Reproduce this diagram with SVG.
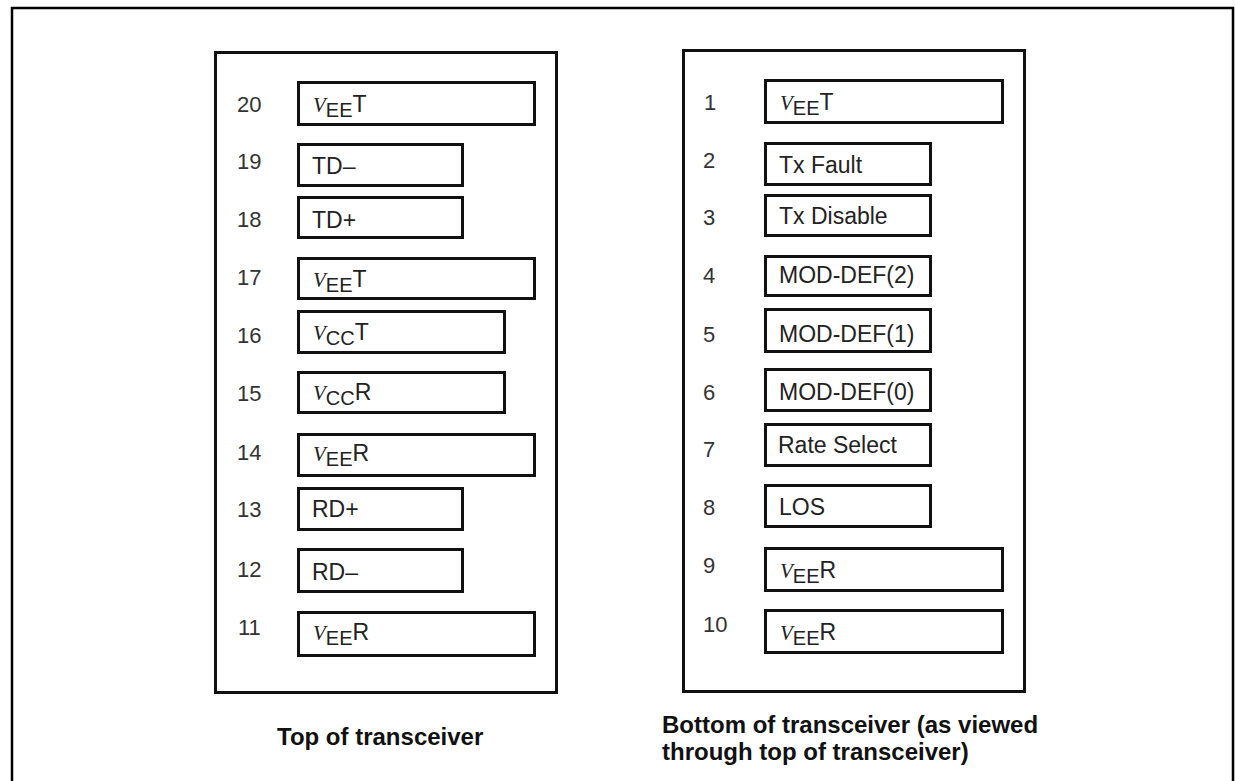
<svg xmlns="http://www.w3.org/2000/svg" width="1235" height="781" viewBox="0 0 1235 781">
<style>
.frame{fill:none;stroke:#000;stroke-width:2.5}
.panel{fill:#fff;stroke:#111;stroke-width:3}
.pin{fill:#fff;stroke:#111;stroke-width:3}
.num{font-family:"Liberation Sans",Arial,sans-serif;font-size:22px;fill:#333}
.lbl{font-family:"Liberation Sans",Arial,sans-serif;font-size:23px;fill:#222}
.v{font-family:"Liberation Serif","Times New Roman",serif;font-style:italic;font-size:21px}
.sub{font-size:20px}
.big{font-size:23px}
.title{font-family:"Liberation Sans",Arial,sans-serif;font-size:24px;font-weight:bold;fill:#111}
</style>
<rect width="1235" height="781" fill="#fff"/>
<path class="frame" d="M12,781 V8 H1233 V781"/>

<g id="top-panel">
<rect class="panel" x="215.5" y="52.5" width="341" height="640"/>
<text class="title" x="277" y="745">Top of transceiver</text>
</g>

<g id="pin20"><rect class="pin" x="298.5" y="82.5" width="236" height="42"/><text class="num" x="237" y="112">20</text><text class="lbl" x="313" y="112"><tspan class="v">V</tspan><tspan class="sub" dy="5">EE</tspan><tspan class="big" dy="-5">T</tspan></text></g>
<g id="pin19"><rect class="pin" x="298.5" y="144.5" width="164" height="41"/><text class="num" x="237" y="169">19</text><text class="lbl" x="312" y="174">TD–</text></g>
<g id="pin18"><rect class="pin" x="298.5" y="197.5" width="164" height="40"/><text class="num" x="237" y="227">18</text><text class="lbl" x="312" y="228">TD+</text></g>
<g id="pin17"><rect class="pin" x="298.5" y="258.5" width="236" height="40"/><text class="num" x="237" y="285">17</text><text class="lbl" x="313" y="287"><tspan class="v">V</tspan><tspan class="sub" dy="5">EE</tspan><tspan class="big" dy="-5">T</tspan></text></g>
<g id="pin16"><rect class="pin" x="298.5" y="311.5" width="206" height="41"/><text class="num" x="237" y="343">16</text><text class="lbl" x="313" y="340"><tspan class="v">V</tspan><tspan class="sub" dy="5">CC</tspan><tspan class="big" dy="-5">T</tspan></text></g>
<g id="pin15"><rect class="pin" x="298.5" y="372.5" width="206" height="40"/><text class="num" x="237" y="401">15</text><text class="lbl" x="313" y="400"><tspan class="v">V</tspan><tspan class="sub" dy="5">CC</tspan><tspan class="big" dy="-5">R</tspan></text></g>
<g id="pin14"><rect class="pin" x="298.5" y="434.5" width="236" height="41"/><text class="num" x="237" y="460">14</text><text class="lbl" x="313" y="461"><tspan class="v">V</tspan><tspan class="sub" dy="5">EE</tspan><tspan class="big" dy="-5">R</tspan></text></g>
<g id="pin13"><rect class="pin" x="298.5" y="488.5" width="164" height="41"/><text class="num" x="237" y="517">13</text><text class="lbl" x="312" y="517">RD+</text></g>
<g id="pin12"><rect class="pin" x="298.5" y="549.5" width="164" height="42"/><text class="num" x="237" y="577">12</text><text class="lbl" x="312" y="580">RD–</text></g>
<g id="pin11"><rect class="pin" x="298.5" y="612.5" width="236" height="43"/><text class="num" x="238" y="635">11</text><text class="lbl" x="313" y="640"><tspan class="v">V</tspan><tspan class="sub" dy="5">EE</tspan><tspan class="big" dy="-5">R</tspan></text></g>

<g id="bottom-panel">
<rect class="panel" x="683.5" y="50.5" width="341" height="641"/>
<text class="title" x="662" y="733">Bottom of transceiver (as viewed</text>
<text class="title" x="662" y="760">through top of transceiver)</text>
</g>

<g id="pin1"><rect class="pin" x="765.5" y="80.5" width="237" height="42"/><text class="num" x="704" y="110">1</text><text class="lbl" x="780" y="110"><tspan class="v">V</tspan><tspan class="sub" dy="5">EE</tspan><tspan class="big" dy="-5">T</tspan></text></g>
<g id="pin2"><rect class="pin" x="765.5" y="143.5" width="165" height="41"/><text class="num" x="703" y="168">2</text><text class="lbl" x="779" y="173">Tx Fault</text></g>
<g id="pin3"><rect class="pin" x="765.5" y="195.5" width="165" height="40"/><text class="num" x="703" y="225">3</text><text class="lbl" x="779" y="224">Tx Disable</text></g>
<g id="pin4"><rect class="pin" x="765.5" y="256.5" width="165" height="39"/><text class="num" x="703" y="283">4</text><text class="lbl" x="779" y="283">MOD-DEF(2)</text></g>
<g id="pin5"><rect class="pin" x="765.5" y="309.5" width="165" height="42"/><text class="num" x="703" y="342">5</text><text class="lbl" x="779" y="342">MOD-DEF(1)</text></g>
<g id="pin6"><rect class="pin" x="765.5" y="369.5" width="165" height="41"/><text class="num" x="703" y="400">6</text><text class="lbl" x="779" y="400">MOD-DEF(0)</text></g>
<g id="pin7"><rect class="pin" x="765.5" y="424.5" width="165" height="41"/><text class="num" x="703" y="457">7</text><text class="lbl" x="778" y="453">Rate Select</text></g>
<g id="pin8"><rect class="pin" x="765.5" y="485.5" width="165" height="41"/><text class="num" x="703" y="515">8</text><text class="lbl" x="779" y="515">LOS</text></g>
<g id="pin9"><rect class="pin" x="765.5" y="548.5" width="237" height="42"/><text class="num" x="703" y="573">9</text><text class="lbl" x="780" y="578"><tspan class="v">V</tspan><tspan class="sub" dy="5">EE</tspan><tspan class="big" dy="-5">R</tspan></text></g>
<g id="pin10"><rect class="pin" x="765.5" y="610.5" width="237" height="42"/><text class="num" x="703" y="632">10</text><text class="lbl" x="780" y="640"><tspan class="v">V</tspan><tspan class="sub" dy="5">EE</tspan><tspan class="big" dy="-5">R</tspan></text></g>

<g id="connectors"/>
</svg>
